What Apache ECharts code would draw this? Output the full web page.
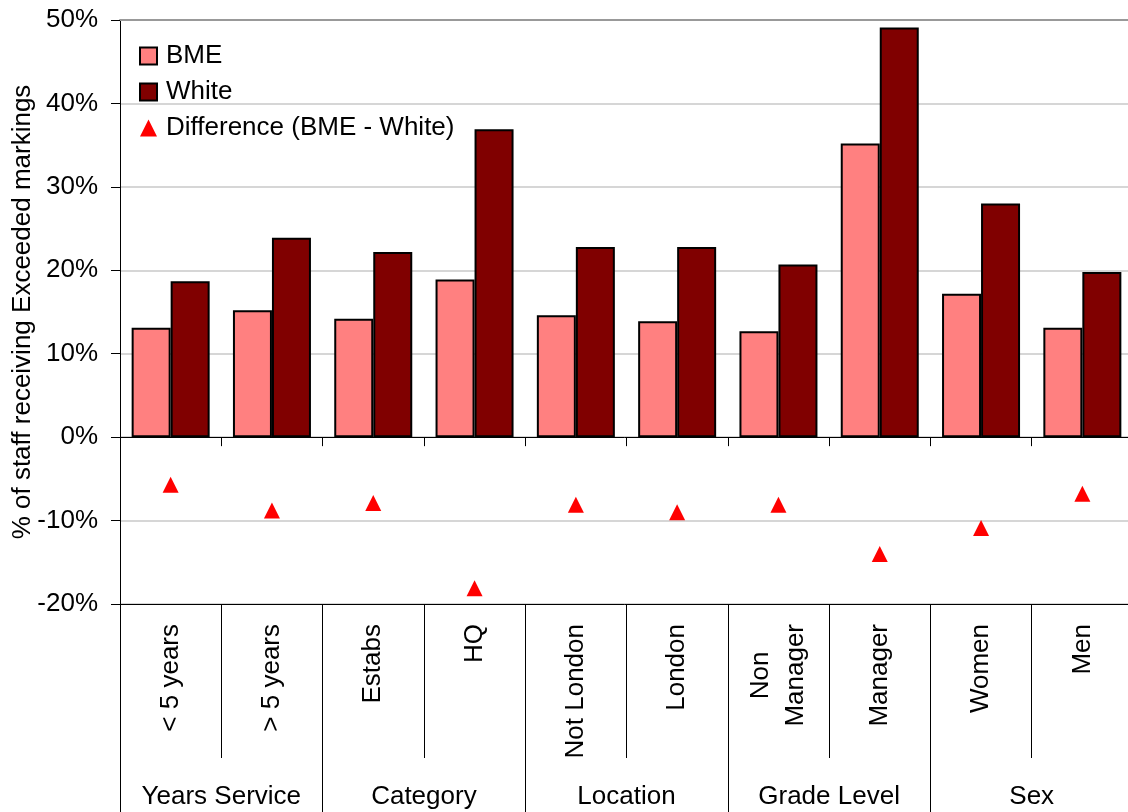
<!DOCTYPE html>
<html>
<head>
<meta charset="utf-8">
<script src="https://cdn.jsdelivr.net/npm/echarts@6/dist/echarts.min.js"></script>
<style>html,body{margin:0;padding:0;background:#fff;}#c{width:1128px;height:812px;}</style>
</head>
<body>
<div id="c"></div>
<script>
const categories = ['< 5 years', '> 5 years', 'Estabs', 'HQ', 'Not London', 'London', 'Non\nManager', 'Manager', 'Women', 'Men'];
const groups = ['Years Service', 'Category', 'Location', 'Grade Level', 'Sex'];
const bme = [13.1, 15.2, 14.2, 18.9, 14.6, 13.9, 12.7, 35.2, 17.2, 13.1];
const white = [18.7, 23.9, 22.2, 36.9, 22.8, 22.8, 20.7, 49.1, 28.0, 19.8];
const difference = [-5.7, -8.8, -7.9, -18.1, -8.1, -9.0, -8.1, -14.0, -10.9, -6.8];
const yTicks = { min: -20, max: 50, interval: 10 };

const FONT = '"Liberation Sans", Arial, sans-serif';
const FS = 26;
const chart = echarts.init(document.getElementById('c'), null, { renderer: 'canvas' });

chart.setOption({
  animation: false,
  backgroundColor: '#ffffff',
  textStyle: { fontFamily: FONT, color: '#000' },
  grid: { left: 120, right: -5, top: 20, bottom: 208, containLabel: false, outerBoundsMode: 'none' },
  legend: {
    orient: 'vertical',
    left: 134,
    top: 38,
    padding: 5,
    itemWidth: 17,
    itemHeight: 17,
    itemGap: 10,
    textStyle: { fontFamily: FONT, fontSize: FS, color: '#000', padding: [0, 0, 0, 4] },
    data: [
      { name: 'BME', icon: 'rect' },
      { name: 'White', icon: 'rect' },
      { name: 'Difference (BME - White)', icon: 'triangle' }
    ]
  },
  xAxis: [
    {
      type: 'category', data: categories, gridIndex: 0, position: 'bottom',
      axisLine: { show: true, onZero: true, lineStyle: { color: '#000', width: 1 } },
      axisTick: { show: true, interval: 0, length: 9, lineStyle: { color: '#000' } },
      axisLabel: { show: false },
      splitLine: { show: false }
    },
    {
      type: 'category', data: categories, gridIndex: 0, position: 'bottom',
      axisLine: { show: true, onZero: false, lineStyle: { color: '#000', width: 1 } },
      axisTick: { show: true, interval: 0, length: 154, lineStyle: { color: '#000' } },
      axisLabel: {
        show: true, interval: 0, rotate: 90, margin: 20,
        fontFamily: FONT, fontSize: FS, color: '#000', lineHeight: 35,
        formatter: function (v) { return v.split('\n').map(function (s) { return '{c|' + s + '}'; }).join('\n'); },
        rich: { c: { align: 'center', fontFamily: FONT, fontSize: FS, lineHeight: 35, color: '#000' } }
      },
      splitLine: { show: false }
    },
    {
      type: 'category', data: groups, gridIndex: 0, position: 'bottom',
      axisLine: { show: false, onZero: false },
      axisTick: { show: true, interval: 0, length: 210, lineStyle: { color: '#000' } },
      axisLabel: { show: true, interval: 0, margin: 180, fontFamily: FONT, fontSize: FS, color: '#000' },
      splitLine: { show: false }
    },
    {
      type: 'category', data: categories, gridIndex: 0, position: 'top',
      axisLine: { show: true, onZero: false, lineStyle: { color: '#999', width: 2 } },
      axisTick: { show: false },
      axisLabel: { show: false },
      splitLine: { show: false }
    }
  ],
  yAxis: {
    type: 'value',
    min: yTicks.min, max: yTicks.max, interval: yTicks.interval,
    name: '% of staff receiving Exceeded markings',
    nameLocation: 'middle',
    nameGap: 84,
    nameMoveOverlap: false,
    nameTextStyle: { fontFamily: FONT, fontSize: FS, color: '#000' },
    axisLine: { show: true, lineStyle: { color: '#000', width: 1 } },
    axisTick: { show: true, length: 9, lineStyle: { color: '#000' } },
    axisLabel: { margin: 22, fontFamily: FONT, fontSize: FS, color: '#000', formatter: '{value}%' },
    splitLine: { show: true, lineStyle: { color: '#c8c8c8', width: 1.5 } }
  },
  series: [
    {
      name: 'BME', type: 'bar', xAxisIndex: 0, data: bme,
      barGap: '0%', barCategoryGap: '23%',
      itemStyle: { color: '#FF8080', borderColor: '#000', borderWidth: 2 }
    },
    {
      name: 'White', type: 'bar', xAxisIndex: 0, data: white,
      barGap: '0%', barCategoryGap: '23%',
      itemStyle: { color: '#800000', borderColor: '#000', borderWidth: 2 }
    },
    {
      name: 'Difference (BME - White)', type: 'scatter', xAxisIndex: 0, data: difference,
      symbol: 'triangle', symbolSize: [16, 16],
      itemStyle: { color: '#FF0000', opacity: 1 }
    }
  ]
});
</script>
</body>
</html>
